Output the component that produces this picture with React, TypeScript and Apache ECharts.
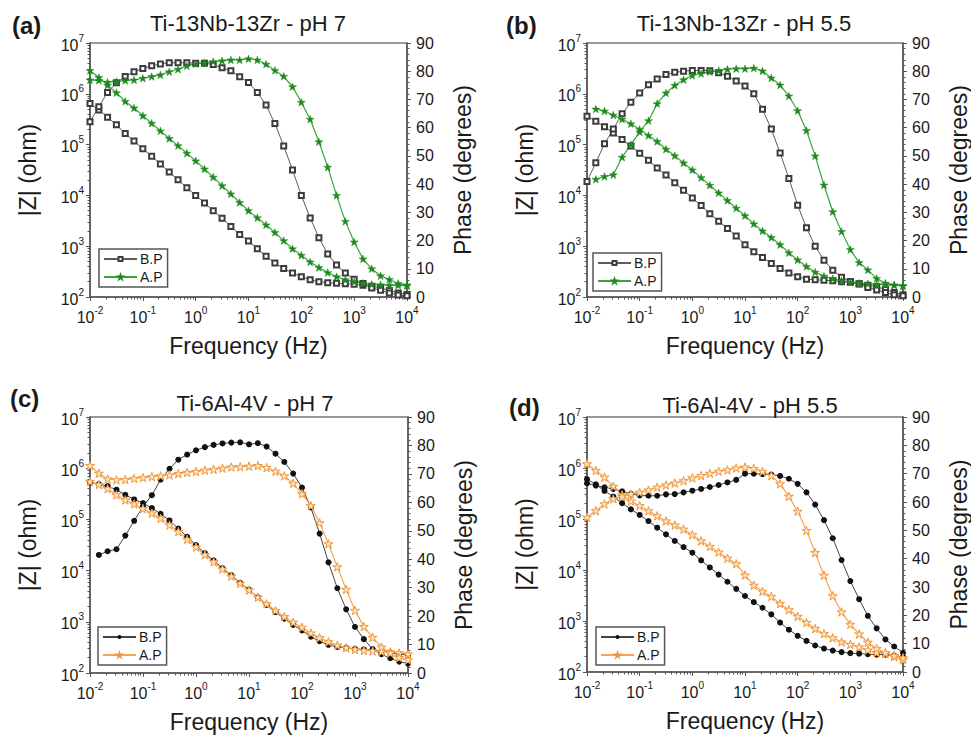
import React, { useEffect, useRef } from 'react';
import * as echarts from 'echarts';

// Frequencies (Hz), ~6 points per decade
const FREQ_HZ = [0.01, 0.0147, 0.0215, 0.0316, 0.0464, 0.0681, 0.1, 0.147, 0.215, 0.316, 0.464, 0.681, 1, 1.47, 2.15, 3.16, 4.64, 6.81, 10, 14.7, 21.5, 31.6, 46.4, 68.1, 100, 147, 215, 316, 464, 681, 1000, 1470, 2150, 3160, 4640, 6810, 10000];

// log10 |Z| (ohm) and phase (degrees)
// (a) Ti-13Nb-13Zr - pH 7
const A_BP_LOGZ = [5.81, 5.68, 5.54, 5.39, 5.22, 5.07, 4.92, 4.77, 4.62, 4.46, 4.31, 4.15, 4.00, 3.85, 3.70, 3.55, 3.39, 3.23, 3.10, 2.95, 2.80, 2.67, 2.56, 2.47, 2.40, 2.34, 2.30, 2.28, 2.27, 2.26, 2.25, 2.23, 2.21, 2.18, 2.13, 2.08, 2.05];
const A_BP_PHASE = [62.1, 67.4, 72.5, 75.9, 78.1, 79.8, 81, 81.9, 82.6, 83, 83, 83, 82.8, 82.8, 82.4, 81.2, 80.2, 78, 76, 72.5, 68, 61.5, 53.5, 45, 36, 28, 21, 15.2, 11.3, 8.5, 6.3, 4.8, 3.2, 2.4, 1.4, 0.7, 0.4];
const A_AP_LOGZ = [6.46, 6.32, 6.17, 6.02, 5.85, 5.72, 5.57, 5.42, 5.27, 5.12, 4.98, 4.83, 4.68, 4.52, 4.36, 4.19, 4.03, 3.86, 3.70, 3.56, 3.42, 3.27, 3.11, 2.95, 2.82, 2.69, 2.58, 2.48, 2.40, 2.34, 2.30, 2.27, 2.25, 2.24, 2.23, 2.23, 2.22];
const A_AP_PHASE = [76.9, 76.7, 76.1, 76.3, 76.7, 76.9, 77.5, 78.1, 78.7, 79.8, 80.7, 81.9, 82.6, 83, 83.4, 83.7, 84, 84, 84.4, 84, 82.5, 80.3, 78.2, 74.5, 69, 63, 55, 46, 36, 26.8, 19.5, 13.5, 10, 7.5, 6.2, 4.8, 4.3];

// (b) Ti-13Nb-13Zr - pH 5.5
const B_BP_LOGZ = [5.56, 5.46, 5.35, 5.23, 5.10, 4.97, 4.83, 4.69, 4.54, 4.40, 4.25, 4.10, 3.95, 3.80, 3.64, 3.49, 3.35, 3.20, 3.03, 2.89, 2.78, 2.66, 2.56, 2.47, 2.40, 2.35, 2.34, 2.33, 2.32, 2.30, 2.29, 2.26, 2.23, 2.20, 2.15, 2.09, 2.04];
const B_BP_PHASE = [40.9, 47.6, 54.3, 59.5, 64.9, 69, 72.3, 75.2, 77.2, 78.8, 79.6, 80, 80.3, 80.3, 80.2, 79.5, 78.2, 76.5, 74.8, 72, 66.5, 59.5, 51, 42, 32.5, 24.5, 18, 13, 9.5, 7, 5.5, 4.6, 3.4, 2.5, 1.6, 0.8, 0.4];
const B_AP_LOGZ = [null, 5.70, 5.66, 5.58, 5.50, 5.41, 5.30, 5.18, 5.06, 4.91, 4.78, 4.64, 4.50, 4.35, 4.20, 4.05, 3.90, 3.75, 3.60, 3.44, 3.30, 3.17, 3.03, 2.87, 2.73, 2.60, 2.49, 2.41, 2.36, 2.32, 2.29, 2.27, 2.26, 2.25, 2.24, 2.23, 2.22];
const B_AP_PHASE = [null, 41.7, 42.7, 43.3, 49.5, 54, 58.5, 62.5, 68.5, 72.3, 75, 77, 78.5, 79.2, 79.8, 80.2, 80.7, 80.9, 80.9, 81.1, 80.1, 77.6, 75.1, 71.2, 66, 59, 50, 39.7, 30.2, 23.2, 16.8, 12.2, 9.6, 6.6, 4.9, 4.3, 4.0];

// (c) Ti-6Al-4V - pH 7
const C_BP_LOGZ = [5.72, 5.69, 5.65, 5.58, 5.48, 5.39, 5.32, 5.22, 5.11, 4.98, 4.82, 4.66, 4.50, 4.34, 4.20, 4.05, 3.91, 3.76, 3.63, 3.48, 3.33, 3.19, 3.06, 2.94, 2.83, 2.71, 2.62, 2.55, 2.51, 2.49, 2.47, 2.46, 2.45, 2.43, 2.40, 2.37, 2.35];
const C_BP_PHASE = [null, 41.5, 42.8, 43.5, 48.3, 53.5, 58.5, 62.5, 68, 71.8, 75, 76.8, 78.3, 79.4, 80.2, 80.7, 81, 81.1, 80.4, 80.8, 79.6, 77.1, 74.2, 70.1, 65.2, 58.2, 49, 38.9, 29.8, 22.4, 16.2, 11.9, 8.4, 6.6, 5.2, 4.0, 3.3];
const C_AP_LOGZ = [5.74, 5.68, 5.60, 5.48, 5.38, 5.30, 5.21, 5.12, 5.02, 4.89, 4.76, 4.61, 4.46, 4.31, 4.17, 4.03, 3.89, 3.75, 3.62, 3.48, 3.35, 3.22, 3.10, 2.99, 2.89, 2.78, 2.69, 2.61, 2.54, 2.49, 2.46, 2.44, 2.43, 2.42, 2.41, 2.39, 2.37];
const C_AP_PHASE = [72.9, 70.2, 68.2, 67.9, 68, 68.4, 68.7, 69, 69.3, 69.6, 70.1, 70.5, 70.8, 71.3, 71.6, 72, 72.4, 72.5, 72.7, 72.9, 72.2, 70.9, 69.3, 66.7, 63, 58.8, 52.8, 45.4, 37.3, 29.4, 22, 16.3, 12.5, 9.1, 7, 5.4, 4.6];

// (d) Ti-6Al-4V - pH 5.5
const D_BP_LOGZ = [5.78, 5.68, 5.55, 5.44, 5.31, 5.19, 5.08, 4.96, 4.83, 4.70, 4.57, 4.45, 4.34, 4.19, 4.05, 3.91, 3.77, 3.63, 3.49, 3.37, 3.26, 3.13, 2.97, 2.83, 2.71, 2.61, 2.52, 2.46, 2.42, 2.39, 2.37, 2.36, 2.35, 2.34, 2.34, 2.32, 2.29];
const D_BP_PHASE = [66.6, 65.8, 65.2, 64.6, 63.8, 62.9, 62.3, 62.2, 62.2, 62.7, 62.8, 63.4, 64, 64.6, 65.3, 66, 66.9, 67.8, 70, 70, 69.8, 69.7, 69.2, 68.2, 66.4, 63.4, 59.1, 53.6, 47.2, 39.5, 32.1, 25.7, 19.8, 15.4, 11.5, 9.0, 6.8];
const D_AP_LOGZ = [6.08, 5.95, 5.82, 5.64, 5.47, 5.35, 5.26, 5.16, 5.06, 4.96, 4.88, 4.80, 4.69, 4.57, 4.46, 4.35, 4.23, 4.12, 3.90, 3.70, 3.58, 3.48, 3.34, 3.22, 3.09, 2.97, 2.85, 2.75, 2.67, 2.59, 2.54, 2.49, 2.43, 2.38, 2.36, 2.30, 2.24];
const D_AP_PHASE = [54.6, 56.9, 59.3, 61.1, 61.9, 62.8, 63.4, 64.2, 65.2, 66, 66.7, 67.5, 68.5, 69.3, 70.1, 70.8, 71.3, 72, 72.3, 71.8, 70.8, 69.3, 66.4, 62, 56.7, 49.9, 42.1, 34.1, 26.9, 21.2, 16.8, 13.4, 10.5, 8.3, 6.8, 5.8, 5];

const PANEL_LABELS = ['(a)', '(b)', '(c)', '(d)'];
const PANEL_TITLES = ['Ti-13Nb-13Zr - pH 7', 'Ti-13Nb-13Zr - pH 5.5', 'Ti-6Al-4V - pH 7', 'Ti-6Al-4V - pH 5.5'];
const SERIES_NAMES = ['B.P', 'A.P'];
const X_AXIS_NAME = 'Frequency (Hz)';
const Y_LEFT_NAME = '|Z| (ohm)';
const Y_RIGHT_NAME = 'Phase (degrees)';

const FONT = "'Liberation Sans', Arial, Helvetica, sans-serif";
const TXT = '#1a1a1a';
const AXIS_C = '#555';
const STAR = 'path://M50,0 L61.8,35.4 L100,35.4 L69.1,57.3 L80.9,95.1 L50,72.4 L19.1,95.1 L30.9,57.3 L0,35.4 L38.2,35.4 Z';

const GRIDS = [
  { left: 90, top: 43, width: 317, height: 254 },
  { left: 587, top: 43, width: 317, height: 254 },
  { left: 90, top: 417, width: 318, height: 256 },
  { left: 587, top: 417, width: 318, height: 255 },
];
const LEGEND_POS = [
  { left: 99, top: 249 },
  { left: 593, top: 253 },
  { left: 98, top: 627 },
  { left: 596, top: 627 },
];
const TITLE_POS = [
  { x: 248, y: 23 }, { x: 744, y: 23 }, { x: 255, y: 403 }, { x: 750, y: 405 },
];
const LABEL_POS = [
  { x: 12, y: 25 }, { x: 506, y: 25 }, { x: 10, y: 398 }, { x: 509, y: 407 },
];

const STYLES: Record<string, any> = {
  gray: {
    symbol: 'emptyRect', symbolSize: 5,
    itemStyle: { color: '#3c3c3c', borderWidth: 1 },
    lineStyle: { color: '#5c5c5c', width: 1 },
  },
  green: {
    symbol: STAR, symbolSize: 8, symbolKeepAspect: true,
    itemStyle: { color: '#1e8a1e', borderColor: '#1e8a1e', borderWidth: 0.5 },
    lineStyle: { color: '#3aa63a', width: 1.2 },
  },
  black: {
    symbol: 'circle', symbolSize: 6,
    itemStyle: { color: '#111' },
    lineStyle: { color: '#444', width: 1 },
  },
  orange: {
    symbol: STAR, symbolSize: 9, symbolKeepAspect: true,
    itemStyle: { color: '#fde2c0', borderColor: '#f0973a', borderWidth: 1 },
    lineStyle: { color: '#f5a552', width: 1.2 },
  },
};

const PANELS = [
  { bpZ: A_BP_LOGZ, bpPh: A_BP_PHASE, apZ: A_AP_LOGZ, apPh: A_AP_PHASE, bp: 'gray', ap: 'green' },
  { bpZ: B_BP_LOGZ, bpPh: B_BP_PHASE, apZ: B_AP_LOGZ, apPh: B_AP_PHASE, bp: 'gray', ap: 'green' },
  { bpZ: C_BP_LOGZ, bpPh: C_BP_PHASE, apZ: C_AP_LOGZ, apPh: C_AP_PHASE, bp: 'black', ap: 'orange' },
  { bpZ: D_BP_LOGZ, bpPh: D_BP_PHASE, apZ: D_AP_LOGZ, apPh: D_AP_PHASE, bp: 'black', ap: 'orange' },
];

const supRich = {
  b: { fontSize: 16, fontFamily: FONT, color: TXT, lineHeight: 20, verticalAlign: 'bottom' },
  s: { fontSize: 10, fontFamily: FONT, color: TXT, lineHeight: 12, verticalAlign: 'top' },
};
const powLabel = (v: number) => `{b|10}{s|${Math.round(Math.log10(v))}}`;

function zPairs(arr: (number | null)[]) {
  const out: number[][] = [];
  arr.forEach((v, i) => { if (v !== null) out.push([FREQ_HZ[i], Math.pow(10, v)]); });
  return out;
}
function phPairs(arr: (number | null)[]) {
  const out: number[][] = [];
  arr.forEach((v, i) => { if (v !== null) out.push([FREQ_HZ[i], v]); });
  return out;
}

function buildOption() {
  const xAxis: any[] = [];
  const yAxis: any[] = [];
  const series: any[] = [];
  const legend: any[] = [];
  const graphic: any[] = [];

  PANELS.forEach((p, i) => {
    xAxis.push({
      type: 'log', logBase: 10, gridIndex: i, min: 0.01, max: 10000, splitNumber: 6,
      name: X_AXIS_NAME, nameLocation: 'middle', nameGap: 37,
      nameTextStyle: { fontSize: 23, fontFamily: FONT, color: TXT },
      axisLine: { show: true, lineStyle: { color: AXIS_C, width: 1.5 } },
      axisTick: { show: true, inside: false, length: 4, lineStyle: { color: AXIS_C } },
      minorTick: { show: true, splitNumber: 9, length: 2.5, lineStyle: { color: AXIS_C } },
      axisLabel: { formatter: powLabel, rich: supRich, margin: 8 },
      splitLine: { show: false },
    });
    yAxis.push({
      type: 'log', logBase: 10, gridIndex: i, min: 100, max: 1e7, splitNumber: 5, position: 'left',
      name: Y_LEFT_NAME, nameLocation: 'middle', nameGap: 51, nameRotate: 90,
      nameTextStyle: { fontSize: 23, fontFamily: FONT, color: TXT },
      axisLine: { show: true, lineStyle: { color: AXIS_C, width: 1.5 } },
      axisTick: { show: true, inside: false, length: 4, lineStyle: { color: AXIS_C } },
      minorTick: { show: true, splitNumber: 9, length: 2.5, lineStyle: { color: AXIS_C } },
      axisLabel: { formatter: powLabel, rich: supRich, margin: 6 },
      splitLine: { show: false },
    });
    yAxis.push({
      type: 'value', gridIndex: i, min: 0, max: 90, interval: 10, position: 'right',
      name: Y_RIGHT_NAME, nameLocation: 'middle', nameGap: 44, nameRotate: 90,
      nameTextStyle: { fontSize: 23, fontFamily: FONT, color: TXT },
      axisLine: { show: true, lineStyle: { color: AXIS_C, width: 1.5 } },
      axisTick: { show: true, inside: false, length: 4, lineStyle: { color: AXIS_C } },
      minorTick: { show: true, splitNumber: 5, length: 2.5, lineStyle: { color: AXIS_C } },
      axisLabel: { fontSize: 16, fontFamily: FONT, color: TXT, margin: 9 },
      splitLine: { show: false },
    });

    const nm = (k: number) => `${SERIES_NAMES[k]}#${i}`;
    const common = { type: 'line', xAxisIndex: i, showSymbol: true, clip: true, z: 3 };
    series.push({ ...common, ...STYLES[p.bp], name: nm(0), yAxisIndex: 2 * i, data: zPairs(p.bpZ) });
    series.push({ ...common, ...STYLES[p.bp], name: nm(0), yAxisIndex: 2 * i + 1, data: phPairs(p.bpPh) });
    series.push({ ...common, ...STYLES[p.ap], name: nm(1), yAxisIndex: 2 * i, data: zPairs(p.apZ) });
    series.push({ ...common, ...STYLES[p.ap], name: nm(1), yAxisIndex: 2 * i + 1, data: phPairs(p.apPh) });

    legend.push({
      ...LEGEND_POS[i], orient: 'vertical', data: [nm(0), nm(1)],
      formatter: (n: string) => n.split('#')[0],
      itemWidth: 33, itemHeight: 5, itemGap: 4, padding: [3, 5, 3, 4],
      borderColor: '#555', borderWidth: 1.5, borderRadius: 0, backgroundColor: '#fff',
      textStyle: { fontSize: 14, fontFamily: FONT, color: TXT, padding: [0, 0, 0, -2] },
      selectedMode: false, z: 10,
    });

    graphic.push({
      type: 'text', x: TITLE_POS[i].x, y: TITLE_POS[i].y,
      style: { text: PANEL_TITLES[i], fill: TXT, font: `22px ${FONT}`, textAlign: 'center', textVerticalAlign: 'middle' },
    });
    graphic.push({
      type: 'text', x: LABEL_POS[i].x, y: LABEL_POS[i].y,
      style: { text: PANEL_LABELS[i], fill: TXT, font: `bold 24px ${FONT}`, textAlign: 'left', textVerticalAlign: 'middle' },
    });
  });

  return {
    animation: false,
    backgroundColor: '#fff',
    grid: GRIDS.map((g) => ({ ...g, show: true, borderColor: '#777', borderWidth: 1.5, backgroundColor: 'transparent' })),
    xAxis, yAxis, series, legend, graphic,
  };
}

export default function App() {
  const ref = useRef<HTMLDivElement>(null);
  useEffect(() => {
    if (!ref.current) return;
    const chart = echarts.init(ref.current, null, { renderer: 'svg' });
    chart.setOption(buildOption() as any);
    return () => chart.dispose();
  }, []);
  return <div ref={ref} style={{ position: 'absolute', left: 0, top: 0, width: 971, height: 735, background: '#fff' }} />;
}
